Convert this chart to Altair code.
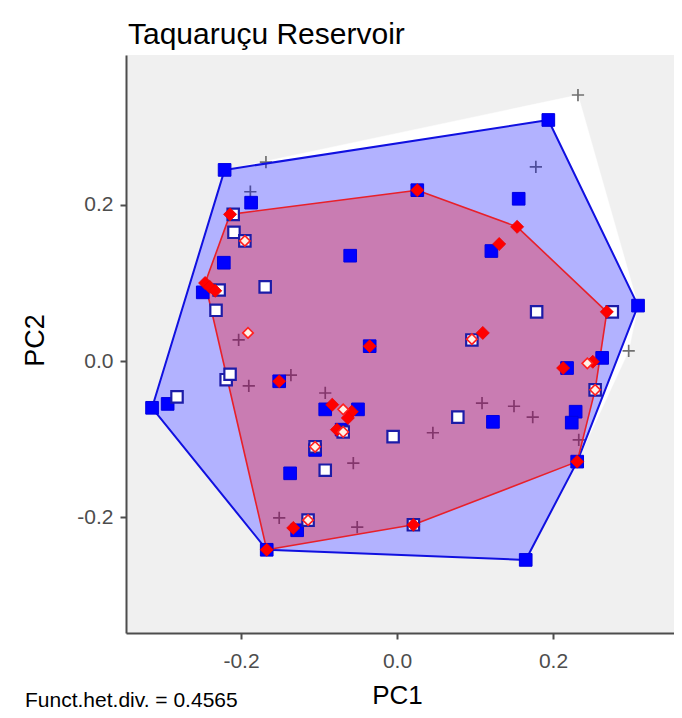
import altair as alt
import pandas as pd

# ---- data (PC1, PC2) ----
# filled blue squares
blue_pc1 = [-0.221, 0.194, 0.309, -0.314, 0.165, -0.167, -0.187, 0.026, 0.156, 0.121,
            -0.222, -0.060, -0.249, -0.294, -0.035, -0.151, -0.092, -0.050, -0.071, -0.105,
            -0.137, -0.128, 0.263, 0.218, 0.229, 0.224, 0.123, 0.231]
blue_pc2 = [0.245, 0.309, 0.071, -0.060, -0.255, -0.242, 0.203, 0.219, 0.208, 0.141,
            0.126, 0.135, 0.088, -0.055, 0.019, -0.026, -0.062, -0.062, -0.088, -0.114,
            -0.144, -0.217, 0.004, -0.009, -0.065, -0.079, -0.078, -0.129]
# open (white) squares
osq_pc1 = [-0.210, -0.209, -0.195, -0.228, -0.232, -0.169, -0.219, -0.214, -0.282, -0.005,
           -0.092, -0.105, -0.069, 0.179, 0.078, 0.096, 0.254, 0.276, 0.021, -0.114]
osq_pc2 = [0.188, 0.165, 0.154, 0.091, 0.065, 0.095, -0.024, -0.017, -0.046, -0.097,
           -0.140, -0.110, -0.091, 0.063, -0.072, 0.027, -0.037, 0.063, -0.210, -0.204]
# filled red diamonds
red_pc1 = [-0.214, 0.026, 0.154, 0.131, 0.110, 0.269, 0.213, 0.251, 0.231, 0.021,
           -0.167, -0.133, -0.035, -0.151, -0.246, -0.240, -0.233, -0.083, -0.058, -0.063, -0.077]
red_pc2 = [0.188, 0.219, 0.172, 0.150, 0.036, 0.063, -0.009, -0.001, -0.129, -0.210,
           -0.242, -0.214, 0.019, -0.026, 0.100, 0.095, 0.090, -0.056, -0.065, -0.073, -0.088]
# open (pale) diamonds
odm_pc1 = [-0.195, -0.191, 0.096, 0.244, 0.254, -0.105, -0.069, -0.069, -0.114]
odm_pc2 = [0.154, 0.036, 0.028, -0.003, -0.037, -0.110, -0.091, -0.062, -0.204]
# grey crosses (species pool)
crs_pc1 = [0.232, -0.188, -0.168, 0.178, -0.203, -0.190, -0.136, -0.092, -0.056, 0.046,
           -0.051, -0.151, 0.109, 0.150, 0.174, 0.297, 0.233]
crs_pc2 = [0.341, 0.217, 0.255, 0.249, 0.027, -0.032, -0.018, -0.041, -0.131, -0.092,
           -0.213, -0.201, -0.054, -0.058, -0.072, 0.013, -0.101]

title_text = "Taquaruçu Reservoir"
note_text = "Funct.het.div. = 0.4565"
tick_vals = [-0.2, 0.0, 0.2]


def hull_df(xs, ys):
    pts = sorted(set(zip(xs, ys)))

    def cr(o, a, b):
        return (a[0] - o[0]) * (b[1] - o[1]) - (a[1] - o[1]) * (b[0] - o[0])

    lower, upper = [], []
    for p in pts:
        while len(lower) >= 2 and cr(lower[-2], lower[-1], p) <= 0:
            lower.pop()
        lower.append(p)
    for p in reversed(pts):
        while len(upper) >= 2 and cr(upper[-2], upper[-1], p) <= 0:
            upper.pop()
        upper.append(p)
    h = lower[:-1] + upper[:-1]
    return pd.DataFrame({"pc1": [p[0] for p in h], "pc2": [p[1] for p in h],
                         "order": list(range(len(h)))})


def pts_df(xs, ys):
    return pd.DataFrame({"pc1": xs, "pc2": ys})


all_x = blue_pc1 + osq_pc1 + red_pc1 + odm_pc1 + crs_pc1
all_y = blue_pc2 + osq_pc2 + red_pc2 + odm_pc2 + crs_pc2
white_hull = hull_df(all_x, all_y)
blue_hull = hull_df(blue_pc1 + osq_pc1, blue_pc2 + osq_pc2)
red_hull = hull_df(red_pc1 + odm_pc1, red_pc2 + odm_pc2)

FONT = "Liberation Sans, Arial, sans-serif"
label_expr = "replace(format(datum.value, '.1f'), '\u2212', '-')"

xscale = alt.Scale(domain=[-0.3474, 0.3551], nice=False, zero=False)
yscale = alt.Scale(domain=[-0.3487, 0.3923], nice=False, zero=False)

xaxis = alt.Axis(values=tick_vals, labelExpr=label_expr, grid=False,
                 domainColor="#4d4d4d", domainWidth=2, tickColor="#4d4d4d",
                 tickWidth=2, tickSize=6, labelFontSize=21, labelColor="#4d4d4d",
                 labelFont=FONT, labelPadding=11, title="PC1", titleFontSize=26,
                 titleFont=FONT, titleColor="black", titleFontWeight="normal",
                 titleX=271, titleY=62, titleBaseline="middle", titleAlign="center")
yaxis = alt.Axis(values=tick_vals, labelExpr=label_expr, grid=False,
                 domainColor="#4d4d4d", domainWidth=2, tickColor="#4d4d4d",
                 tickWidth=2, tickSize=6, labelFontSize=21, labelColor="#4d4d4d",
                 labelFont=FONT, labelPadding=7, title="PC2", titleFontSize=27,
                 titleFont=FONT, titleColor="black", titleFontWeight="normal",
                 titleX=-91, titleY=285, titleAngle=-90, titleBaseline="middle",
                 titleAlign="center")

X = alt.X("pc1:Q", scale=xscale, axis=xaxis)
Y = alt.Y("pc2:Q", scale=yscale, axis=yaxis)


def poly(df, fill, fill_op, stroke, sw):
    return alt.Chart(df).mark_line(
        interpolate="linear-closed", fill=fill, fillOpacity=fill_op,
        stroke=stroke, strokeWidth=sw, strokeJoin="round", clip=False
    ).encode(x=X, y=Y, order="order:Q")


white_layer = poly(white_hull, "white", 1.0, "white", 0.5)
blue_layer = poly(blue_hull, "#0000ff", 0.3, "#1010e0", 2)
red_layer = poly(red_hull, "#ff0000", 0.3, "#e8202a", 1.6)

cross_layer = alt.Chart(pts_df(crs_pc1, crs_pc2)).mark_point(
    shape="M-1,0L1,0M0,-1L0,1", filled=False, stroke="#707070", strokeWidth=1.7,
    size=150, opacity=1
).encode(x=X, y=Y)

blue_sq = alt.Chart(pts_df(blue_pc1, blue_pc2)).mark_point(
    shape="square", fill="#0000ff", stroke="#0000e0", strokeWidth=1, size=160, opacity=1
).encode(x=X, y=Y)

open_sq = alt.Chart(pts_df(osq_pc1, osq_pc2)).mark_point(
    shape="square", fill="#ffffff", stroke="#1c1ca8", strokeWidth=2.2, size=130, opacity=1
).encode(x=X, y=Y)

red_dm = alt.Chart(pts_df(red_pc1, red_pc2)).mark_point(
    shape="diamond", fill="#ff0000", stroke="#ee0000", strokeWidth=0.8, size=170, opacity=1
).encode(x=X, y=Y)

open_dm = alt.Chart(pts_df(odm_pc1, odm_pc2)).mark_point(
    shape="diamond", fill="#fff1e6", stroke="#ff2020", strokeWidth=1.6, size=110, opacity=1
).encode(x=X, y=Y)

note = alt.Chart(pd.DataFrame({"t": [note_text]})).mark_text(
    align="left", baseline="alphabetic", fontSize=21, font=FONT, color="black"
).encode(x=alt.value(-101), y=alt.value(652), text="t:N")

chart = alt.layer(
    white_layer, cross_layer, blue_layer, red_layer,
    blue_sq, open_sq, red_dm, open_dm, note
).properties(
    width=548, height=578,
    title=alt.TitleParams(title_text, anchor="start", frame="group", fontSize=30,
                          font=FONT, fontWeight="normal", color="black", offset=5,
                          dx=2),
    autosize=alt.AutoSizeParams(type="none"),
    padding={"left": 118, "top": 47, "right": 0, "bottom": 77},
).configure_view(fill="#f0f0f0", strokeWidth=0)

chart.save("out.html", embed_options={"renderer": "svg", "actions": False})
